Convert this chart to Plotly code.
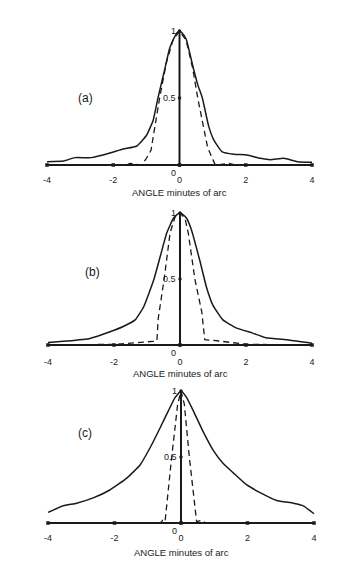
import plotly.graph_objects as go

PAGE_W, PAGE_H = 342, 565
OFF = 8  # default body margin of the page
W, H = PAGE_W - 2 * OFF, PAGE_H - 2 * OFF

# ---------------- data ----------------
xa_solid = [-4, -3.5, -3.16, -2.66, -2.1, -1.7, -1.3, -1.0, -0.8, -0.65, -0.45, -0.3, -0.18, -0.08, 0,
            0.08, 0.2, 0.42, 0.55, 0.69, 0.88, 1.03, 1.28, 1.64, 2.04, 2.44, 2.75, 3.15, 3.56, 4]
ya_solid = [0.025, 0.03, 0.055, 0.055, 0.09, 0.12, 0.14, 0.22, 0.33, 0.5, 0.71, 0.87, 0.94, 0.985, 1,
            0.985, 0.94, 0.72, 0.6, 0.5, 0.29, 0.19, 0.1, 0.08, 0.075, 0.05, 0.04, 0.05, 0.025, 0.02]
xa_dash = [-4, -1.6, -1.5, -1.14, -1.0, -0.86, -0.6, -0.4, -0.2, 0, 0.2, 0.4, 0.55, 0.85, 1.08, 1.5, 1.7, 4]
ya_dash = [0, 0.0, 0.012, 0, 0.05, 0.11, 0.5, 0.76, 0.93, 1, 0.93, 0.72, 0.5, 0.13, 0, 0.012, 0.0, 0]

xb_solid = [-4, -3.43, -2.73, -2.12, -1.72, -1.36, -1.1, -0.8, -0.6, -0.4, -0.2, -0.08, 0,
            0.08, 0.2, 0.35, 0.6, 0.8, 1.0, 1.3, 1.7, 2.2, 2.6, 3.3, 4]
yb_solid = [0.018, 0.03, 0.05, 0.1, 0.14, 0.19, 0.29, 0.49, 0.67, 0.85, 0.96, 0.99, 1,
            0.99, 0.96, 0.87, 0.64, 0.44, 0.3, 0.19, 0.13, 0.09, 0.055, 0.038, 0.013]
xb_dash = [-4, -2, -1.2, -0.7, -0.66, -0.48, -0.3, -0.15, 0, 0.15, 0.25, 0.45, 0.66, 0.75, 1.2, 2, 4]
yb_dash = [0, 0.005, 0.02, 0.03, 0.2, 0.5, 0.85, 0.97, 1, 0.96, 0.85, 0.5, 0.25, 0.04, 0.03, 0.005, 0]

xc_solid = [-4, -3.54, -3.14, -2.64, -2.14, -1.63, -1.23, -0.93, -0.63, -0.38, -0.18, 0,
            0.17, 0.37, 0.67, 0.97, 1.27, 1.57, 1.97, 2.38, 2.88, 3.38, 3.68, 4]
yc_solid = [0.08, 0.13, 0.15, 0.19, 0.25, 0.34, 0.44, 0.57, 0.72, 0.85, 0.95, 1,
            0.95, 0.85, 0.69, 0.55, 0.45, 0.38, 0.29, 0.23, 0.17, 0.15, 0.13, 0.07]
xc_dash = [-4, -0.62, -0.55, -0.48, -0.28, -0.1, 0, 0.1, 0.25, 0.47, 0.6, 0.75, 4]
yc_dash = [0, 0, 0.02, 0.01, 0.5, 0.9, 1, 0.9, 0.5, 0.01, 0.02, 0, 0]

x_ticks = [-4, -2, 0, 2, 4]
y_ticks = [0, 0.5, 1]
y_tick_text = ["0", "0.5", "1"]
panel_labels = ["(a)", "(b)", "(c)"]
x_title = "ANGLE minutes of arc"

panels = [
    (xa_solid, ya_solid, xa_dash, ya_dash),
    (xb_solid, yb_solid, xb_dash, yb_dash),
    (xc_solid, yc_solid, xc_dash, yc_dash),
]

# page-pixel geometry: (x=-4 px, x=4 px, y=0 px, y=1 px, ticklabel y px, title y px, label x px, label y px)
geom = [
    (47, 312, 165, 31, 181, 192, 85, 98),
    (48, 312, 345, 213, 363, 373, 92, 272),
    (48, 314, 523, 391, 539, 552, 85, 433),
]

FONT = "Liberation Sans"
INK = "#1a1a1a"

fig = go.Figure()
layout = dict(width=W, height=H, autosize=False, margin=dict(l=0, r=0, t=0, b=0),
              paper_bgcolor="white", plot_bgcolor="rgba(0,0,0,0)", showlegend=False)
annotations = []
shapes = []

for i, ((xs, ys, xd, yd), g) in enumerate(zip(panels, geom)):
    n = i + 1
    xk = "x" if n == 1 else f"x{n}"
    yk = "y" if n == 1 else f"y{n}"
    xm, xp, y0p, y1p, tly, tty, lx, ly = [v - OFF for v in g]
    ppx = (xp - xm) / 8.0
    ppy = (y0p - y1p) / 1.0
    xr = [-4.2, 4.2]
    left_px = xm - 0.2 * ppx
    right_px = xp + 0.2 * ppx
    top_px = y1p - 0.06 * ppy
    bot_px = tly - 8
    yr = [-(bot_px - y0p) / ppy, 1.06]
    layout[f"xaxis{'' if n == 1 else n}"] = dict(
        domain=[left_px / W, right_px / W], range=xr, anchor=yk,
        showgrid=False, zeroline=False, showline=False, ticks="",
        tickvals=x_ticks, ticktext=[str(v) for v in x_ticks],
        tickfont=dict(family=FONT, size=9, color=INK), fixedrange=True)
    layout[f"yaxis{'' if n == 1 else n}"] = dict(
        domain=[1 - bot_px / H, 1 - top_px / H], range=yr, anchor=xk,
        showgrid=False, zeroline=False, showline=False, showticklabels=False,
        ticks="", fixedrange=True)

    # axis lines in data coordinates
    shapes.append(dict(type="line", xref=xk, yref=yk, x0=x_ticks[0], x1=x_ticks[-1], y0=0, y1=0,
                       line=dict(color=INK, width=2)))
    shapes.append(dict(type="line", xref=xk, yref=yk, x0=0, x1=0, y0=y_ticks[0], y1=y_ticks[-1],
                       line=dict(color=INK, width=2)))
    # tick dots
    fig.add_trace(go.Scatter(x=x_ticks, y=[0] * len(x_ticks), mode="markers", xaxis=xk, yaxis=yk,
                             marker=dict(size=3.5, color=INK, symbol="square"), hoverinfo="skip"))
    fig.add_trace(go.Scatter(x=[0] * len(y_ticks), y=y_ticks, mode="markers", xaxis=xk, yaxis=yk,
                             marker=dict(size=3.5, color=INK), hoverinfo="skip"))
    # curves
    fig.add_trace(go.Scatter(x=xs, y=ys, mode="lines", xaxis=xk, yaxis=yk,
                             line=dict(color=INK, width=1.5, shape="spline", smoothing=0.4)))
    fig.add_trace(go.Scatter(x=xd, y=yd, mode="lines", xaxis=xk, yaxis=yk,
                             line=dict(color=INK, width=1.3, dash="6px,4px")))
    # y tick labels
    for v, t in zip(y_ticks, y_tick_text):
        annotations.append(dict(x=0, y=v, xref=xk, yref=yk, text=t, showarrow=False,
                                xanchor="right", yanchor="top" if v == 0 else "middle",
                                xshift=-2, yshift=-1 if v == 0 else 0,
                                font=dict(family=FONT, size=9, color=INK)))
    # axis title
    annotations.append(dict(x=0, y=1 - tty / H, xref=xk, yref="paper", text=x_title,
                            showarrow=False, xanchor="center", yanchor="middle",
                            font=dict(family=FONT, size=9.5, color=INK)))
    # panel label
    annotations.append(dict(x=lx / W, y=1 - ly / H, xref="paper", yref="paper", text=panel_labels[i],
                            showarrow=False, xanchor="center", yanchor="middle",
                            font=dict(family=FONT, size=12, color=INK)))

layout["annotations"] = annotations
layout["shapes"] = shapes
fig.update_layout(**layout)
fig.write_html("out.html")
